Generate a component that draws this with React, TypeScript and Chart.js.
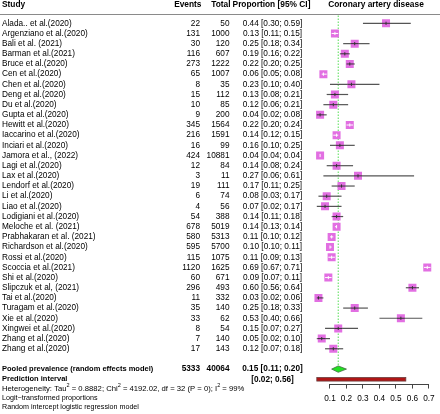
import React, { useEffect, useRef } from "react";
import { Chart, registerables } from "chart.js";

Chart.register(...registerables);

const studies = [
  "Alada.. et al.(2020)", "Argenziano et al.(2020)", "Bali et al. (2021)", "Barman et al.(2021)",
  "Bruce et al.(2020)", "Cen et al.(2020)", "Chen et al.(2020)", "Deng et al.(2020)", "Du et al.(2020)",
  "Gupta et al.(2020)", "Hewitt et al.(2020)", "Iaccarino et al.(2020)", "Inciari et al.(2020)",
  "Jamora et al., (2022)", "Lagi et al.(2020)", "Lax et al.(2020)", "Lendorf et al.(2020)", "Li et al.(2020)",
  "Liao et al.(2020)", "Lodigiani et al.(2020)", "Meloche et al. (2021)", "Prabhakaran et al. (2021)",
  "Richardson et al.(2020)", "Rossi et al.(2020)", "Scoccia et al.(2021)", "Shi et al.(2020)",
  "Slipczuk et al, (2021)", "Tai et al.(2020)", "Turagam et al.(2020)", "Xie et al.(2020)",
  "Xingwei et al.(2020)", "Zhang et al.(2020)", "Zhang et al.(2020)",
];
const events = [22, 131, 30, 116, 273, 65, 8, 15, 10, 9, 345, 216, 16, 424, 12, 3, 19, 6, 4, 54, 678, 580, 595, 115, 1120, 60, 296, 11, 35, 33, 8, 7, 17];
const totals = [50, 1000, 120, 607, 1222, 1007, 35, 112, 85, 200, 1564, 1591, 99, 10881, 84, 11, 111, 74, 56, 388, 5019, 5313, 5700, 1075, 1625, 671, 493, 332, 140, 62, 54, 140, 143];
const proportions = [0.44, 0.13, 0.25, 0.19, 0.22, 0.06, 0.23, 0.13, 0.12, 0.04, 0.22, 0.14, 0.16, 0.04, 0.14, 0.27, 0.17, 0.08, 0.07, 0.14, 0.14, 0.11, 0.10, 0.11, 0.69, 0.09, 0.60, 0.03, 0.25, 0.53, 0.15, 0.05, 0.12];
const lowerCI = [0.30, 0.11, 0.18, 0.16, 0.20, 0.05, 0.10, 0.08, 0.06, 0.02, 0.20, 0.12, 0.10, 0.04, 0.08, 0.06, 0.11, 0.03, 0.02, 0.11, 0.13, 0.10, 0.10, 0.09, 0.67, 0.07, 0.56, 0.02, 0.18, 0.40, 0.07, 0.02, 0.07];
const upperCI = [0.59, 0.15, 0.34, 0.22, 0.25, 0.08, 0.40, 0.21, 0.21, 0.08, 0.24, 0.15, 0.25, 0.04, 0.24, 0.61, 0.25, 0.17, 0.17, 0.18, 0.14, 0.12, 0.11, 0.13, 0.71, 0.11, 0.64, 0.06, 0.33, 0.66, 0.27, 0.10, 0.18];

const pooledEvents = 5333;
const pooledTotal = 40064;
const pooledEstimate = [0.15, 0.11, 0.20];
const predictionInterval = [0.02, 0.56];
const xTicks = [0.1, 0.2, 0.3, 0.4, 0.5, 0.6, 0.7];
const hetTau2 = "0.8882";
const hetChi2 = "4192.02";
const hetDf = "32";
const hetP = "0";
const hetI2 = "99%";

const FONT = "'Liberation Sans', Arial, Helvetica, sans-serif";
const FS = 8.25;
const SQUARE_HALF = 4.0;

const fmt = (v: number) => v.toFixed(2);

const forestPlugin = {
  id: "forest",
  beforeDatasetsDraw(chart: any) {
    const { ctx } = chart;
    const x = chart.scales.x;
    const y = chart.scales.y;
    const W = chart.width;
    ctx.save();
    // header line
    const hy = Math.round(y.getPixelForValue(-0.94)) + 0.5;
    ctx.strokeStyle = "#8a8a8a";
    ctx.lineWidth = 1;
    ctx.beginPath();
    ctx.moveTo(0, hy);
    ctx.lineTo(W, hy);
    ctx.stroke();
    // axis line from first to last tick
    const ay = Math.round(chart.chartArea.bottom) + 0.5;
    ctx.strokeStyle = "#444";
    ctx.beginPath();
    ctx.moveTo(x.getPixelForValue(xTicks[0]), ay);
    ctx.lineTo(x.getPixelForValue(xTicks[xTicks.length - 1]), ay);
    ctx.stroke();
    // reference dotted line at pooled estimate
    const px = x.getPixelForValue(pooledEstimate[0]);
    ctx.strokeStyle = "#55dd55";
    ctx.setLineDash([1.5, 1.5]);
    ctx.beginPath();
    ctx.moveTo(px, hy + 1);
    ctx.lineTo(px, y.getPixelForValue(studies.length + 1) - 3);
    ctx.stroke();
    ctx.setLineDash([]);
    // CI lines
    ctx.strokeStyle = "#555555";
    ctx.lineWidth = 1.2;
    studies.forEach((_, i) => {
      const yy = y.getPixelForValue(i);
      ctx.beginPath();
      ctx.moveTo(x.getPixelForValue(lowerCI[i]), yy);
      ctx.lineTo(x.getPixelForValue(upperCI[i]), yy);
      ctx.stroke();
    });
    ctx.restore();
  },
  afterDatasetsDraw(chart: any) {
    const { ctx } = chart;
    const x = chart.scales.x;
    const y = chart.scales.y;
    ctx.save();
    // CI over squares
    studies.forEach((_, i) => {
      const yy = y.getPixelForValue(i);
      const cx = x.getPixelForValue(proportions[i]);
      const lx = x.getPixelForValue(lowerCI[i]);
      const ux = x.getPixelForValue(upperCI[i]);
      const inside = lx >= cx - SQUARE_HALF && ux <= cx + SQUARE_HALF;
      ctx.strokeStyle = inside ? "#ffffff" : "#333333";
      ctx.lineWidth = 1;
      ctx.beginPath();
      ctx.moveTo(Math.max(lx, cx - SQUARE_HALF), yy);
      ctx.lineTo(Math.min(ux, cx + SQUARE_HALF), yy);
      ctx.moveTo(cx, yy - 1.6);
      ctx.lineTo(cx, yy + 1.6);
      ctx.stroke();
    });
    // diamond
    const dRow = studies.length + 1;
    const dy = y.getPixelForValue(dRow);
    ctx.beginPath();
    ctx.moveTo(x.getPixelForValue(pooledEstimate[1]), dy);
    ctx.lineTo(x.getPixelForValue(pooledEstimate[0]), dy - 3.2);
    ctx.lineTo(x.getPixelForValue(pooledEstimate[2]), dy);
    ctx.lineTo(x.getPixelForValue(pooledEstimate[0]), dy + 3.2);
    ctx.closePath();
    ctx.fillStyle = "#22e022";
    ctx.fill();
    ctx.strokeStyle = "#3a5a3a";
    ctx.lineWidth = 0.7;
    ctx.stroke();
    // prediction interval bar
    const py = y.getPixelForValue(dRow + 1);
    const p0 = x.getPixelForValue(predictionInterval[0]);
    const p1 = x.getPixelForValue(predictionInterval[1]);
    ctx.fillStyle = "#b01515";
    ctx.fillRect(p0, py - 1.8, p1 - p0, 3.6);
    ctx.strokeStyle = "#6a4040";
    ctx.lineWidth = 0.8;
    ctx.strokeRect(p0, py - 1.8, p1 - p0, 3.6);

    // texts
    const colStudy = 2;
    const colEvents = 200;
    const colTotal = 229.5;
    const colCI = 272.5;
    const colTitle = 376;
    ctx.fillStyle = "#000";
    ctx.textBaseline = "middle";
    const bold = `bold ${FS}px ${FONT}`;
    const boldSmall = `bold 7.5px ${FONT}`;
    const normal = `${FS}px ${FONT}`;
    const hy = y.getPixelForValue(-1.87);
    ctx.font = `bold 8.35px ${FONT}`;
    ctx.textAlign = "left";
    ctx.fillText("Study", colStudy, hy);
    ctx.textAlign = "right";
    ctx.fillText("Events", colEvents + 1.5, hy);
    ctx.fillText("Total", colTotal + 1, hy);
    ctx.textAlign = "center";
    ctx.fillText("Proportion [95% CI]", colCI - 1, hy);
    ctx.fillText("Coronary artery disease", colTitle, hy);

    ctx.font = normal;
    studies.forEach((s, i) => {
      const yy = y.getPixelForValue(i);
      ctx.textAlign = "left";
      ctx.fillText(s, colStudy, yy);
      ctx.textAlign = "right";
      ctx.fillText(String(events[i]), colEvents, yy);
      ctx.fillText(String(totals[i]), colTotal, yy);
      ctx.textAlign = "center";
      ctx.fillText(`${fmt(proportions[i])} [${fmt(lowerCI[i])}; ${fmt(upperCI[i])}]`, colCI, yy);
    });

    ctx.font = boldSmall;
    ctx.textAlign = "left";
    ctx.fillText("Pooled prevalence (random effects model)", colStudy, dy);
    ctx.fillText("Prediction interval", colStudy, py);
    ctx.font = bold;
    ctx.textAlign = "right";
    ctx.fillText(String(pooledEvents), colEvents, dy);
    ctx.fillText(String(pooledTotal), colTotal, dy);
    ctx.textAlign = "center";
    ctx.fillText(`${fmt(pooledEstimate[0])} [${fmt(pooledEstimate[1])}; ${fmt(pooledEstimate[2])}]`, colCI, dy);
    ctx.fillText(`[${fmt(predictionInterval[0])}; ${fmt(predictionInterval[1])}]`, colCI, py);

    // heterogeneity with superscripts
    const hetFS = 7.7;
    const hetY = y.getPixelForValue(dRow + 1.93);
    ctx.textAlign = "left";
    const parts: [string, boolean][] = [
      ["Heterogeneity: Tau", false], ["2", true], [` = ${hetTau2}; Chi`, false], ["2", true],
      [` = ${hetChi2}, df = ${hetDf} (P = ${hetP}); I`, false], ["2", true], [` = ${hetI2}`, false],
    ];
    let cx = colStudy;
    parts.forEach(([t, sup]) => {
      if (sup) {
        ctx.font = `${hetFS * 0.72}px ${FONT}`;
        ctx.fillText(t, cx, hetY - 2.8);
      } else {
        ctx.font = `${hetFS}px ${FONT}`;
        ctx.fillText(t, cx, hetY);
      }
      cx += ctx.measureText(t).width;
    });
    ctx.font = `7.15px ${FONT}`;
    ctx.fillText("Logit\u2212transformed proportions", colStudy, y.getPixelForValue(dRow + 2.84));
    ctx.fillText("Random intercept logistic regression model", colStudy, y.getPixelForValue(dRow + 3.72));
    ctx.restore();
  },
};

export default function App() {
  const ref = useRef<HTMLCanvasElement>(null);
  useEffect(() => {
    document.body.style.margin = "0";
    const canvas = ref.current!;
    const chart = new Chart(canvas, {
      type: "scatter",
      data: {
        datasets: [
          {
            data: proportions.map((p, i) => ({ x: p, y: i })),
            pointStyle: "rect",
            pointRadius: SQUARE_HALF / Math.SQRT1_2,
            backgroundColor: "#e26fe2",
            borderWidth: 0,
          },
        ],
      },
      options: {
        animation: false,
        responsive: false,
        events: [],
        layout: { padding: { left: 313.5, right: 2.7, top: 14, bottom: 5.14 } },
        plugins: { legend: { display: false }, tooltip: { enabled: false } },
        scales: {
          x: {
            type: "linear",
            min: 0,
            max: 0.72,
            position: "bottom",
            afterBuildTicks: (s: any) => {
              s.ticks = xTicks.map((v) => ({ value: v }));
            },
            grid: { drawOnChartArea: false, drawTicks: true, tickLength: 4.5, color: "#444", lineWidth: 1 },
            border: { display: false },
            ticks: {
              color: "#000",
              padding: 5.2,
              font: { family: FONT, size: FS },
              callback: (v: any) => Number(v).toFixed(1),
              maxRotation: 0,
              autoSkip: false,
            },
          },
          y: { type: "linear", display: false, min: -0.914, max: 35.47, reverse: true },
        },
      },
      plugins: [forestPlugin],
    });
    return () => chart.destroy();
  }, []);
  return (
    <div style={{ position: "absolute", left: 0, top: 0, width: 440, height: 414, background: "#fff" }}>
      <canvas ref={ref} width={440} height={414} />
    </div>
  );
}
